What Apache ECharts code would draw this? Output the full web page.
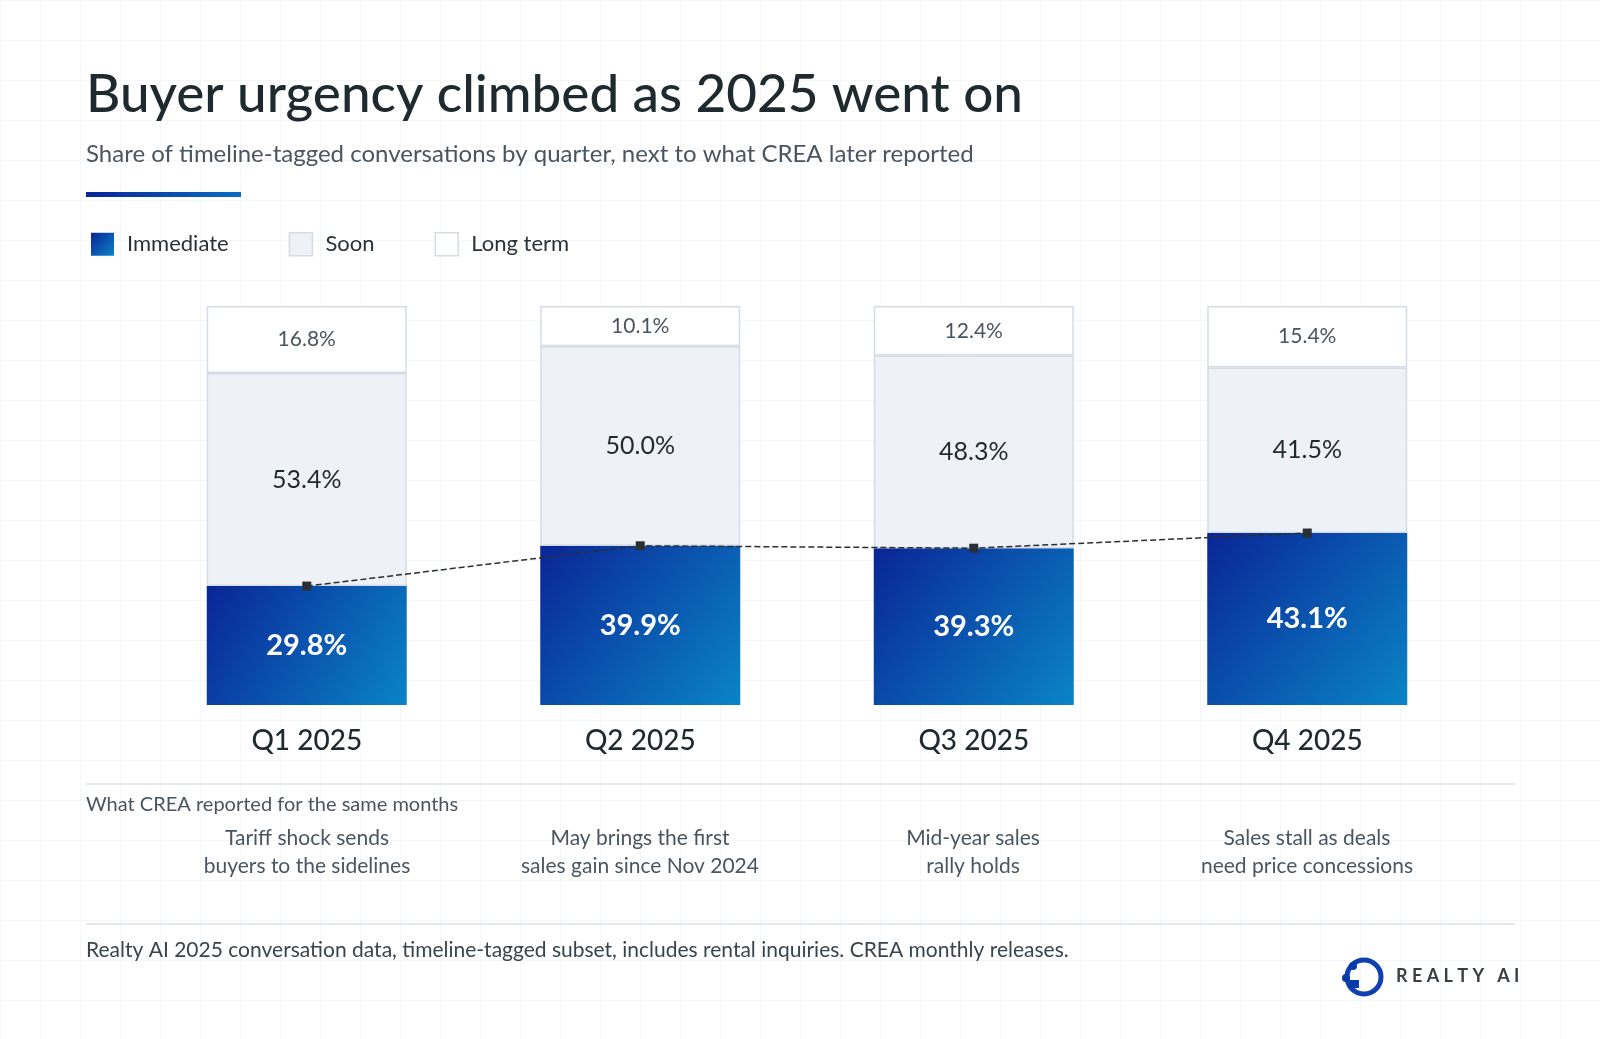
<!DOCTYPE html>
<html><head><meta charset="utf-8">
<script src="https://cdn.jsdelivr.net/npm/echarts@6/dist/echarts.min.js"></script>
<style>
html,body{margin:0;padding:0;}
#c{width:1600px;height:1039px;background-color:#fff;
background-image:linear-gradient(#f4f6f8 1px,transparent 1px),linear-gradient(90deg,#f4f6f8 1px,transparent 1px);
background-size:40px 40px;}
</style></head><body><div id="c"></div>
<script>
const categories=['Q1 2025','Q2 2025','Q3 2025','Q4 2025'];
const immediate=[29.8,39.9,39.3,43.1];
const soon=[53.4,50.0,48.3,41.5];
const longTerm=[16.8,10.1,12.4,15.4];
const notes=['Tariff shock sends\nbuyers to the sidelines','May brings the first\nsales gain since Nov 2024','Mid-year sales\nrally holds','Sales stall as deals\nneed price concessions'];
const F='Lato, "Noto Sans", sans-serif';
const chart=echarts.init(document.getElementById('c'));
const grad=new echarts.graphic.LinearGradient(0,0,1,1,[{offset:0,color:'#0a2596'},{offset:1,color:'#0a84c6'}]);
const noteX=[307,640,973,1307];
const g=[
 {type:'text',left:86,top:68,style:{text:'Buyer urgency climbed as 2025 went on',font:'500 53px '+F,fill:'#1f2a2e'}},
 {type:'text',left:86,top:142,style:{text:'Share of timeline-tagged conversations by quarter, next to what CREA later reported',font:'24px '+F,fill:'#4a5560'}},
 {type:'rect',shape:{x:86,y:192,width:155,height:5},style:{fill:new echarts.graphic.LinearGradient(0,0,1,0,[{offset:0,color:'#0a2596'},{offset:1,color:'#0a6cc0'}])}},
 {type:'line',shape:{x1:86,y1:784,x2:1515,y2:784},style:{stroke:'#dde2ea',lineWidth:1.5}},
 {type:'line',shape:{x1:86,y1:924,x2:1515,y2:924},style:{stroke:'#dde2ea',lineWidth:1.5}},
 {type:'text',left:86,top:795,style:{text:'What CREA reported for the same months',font:'20px '+F,fill:'#4a5560'}},
 {type:'text',left:86,top:940,style:{text:'Realty AI 2025 conversation data, timeline-tagged subset, includes rental inquiries. CREA monthly releases.',font:'21px '+F,fill:'#3a444c'}},
 {type:'text',left:1396,top:967,style:{text:'R E A L T Y   A I',font:'bold 18px '+F,fill:'#3a3f44'}},
 {type:'circle',shape:{cx:1364,cy:977,r:17},style:{fill:'none',stroke:'#1040b0',lineWidth:5}},
 {type:'circle',shape:{cx:1346,cy:978,r:4},style:{fill:'#0a3aa8'}},
 {type:'circle',shape:{cx:1353,cy:966,r:4},style:{fill:'#0a3aa8'}},
 {type:'rect',shape:{x:1349,y:980,width:10,height:8},style:{fill:'#0a3aa8'}}
];
notes.forEach((t,i)=>g.push({type:'text',x:noteX[i],y:824,style:{text:t,font:'21px '+F,fill:'#4a5560',align:'center',lineHeight:28}}));
const base={type:'bar',stack:'s',barWidth:200};
chart.setOption({
 animation:false,
 textStyle:{fontFamily:F},
 legend:{left:86,top:227,icon:'rect',itemWidth:23,itemHeight:23,itemGap:60,textStyle:{fontSize:22,color:'#2a3238',fontFamily:F,padding:[0,0,0,8]},
   data:[{name:'Immediate',itemStyle:{color:grad}},{name:'Soon',itemStyle:{color:'#eef1f6',borderColor:'#d6dbe5',borderWidth:1.5}},{name:'Long term',itemStyle:{color:'#fff',borderColor:'#d6dbe5',borderWidth:1.5}}]},
 grid:{left:140,width:1334,top:306,height:399},
 xAxis:{type:'category',data:categories,axisLine:{show:false},axisTick:{show:false},axisLabel:{fontSize:28,color:'#1f2a2e',margin:22,fontFamily:F,fontWeight:500}},
 yAxis:{type:'value',min:0,max:100,show:false,splitLine:{show:false}},
 series:[
  Object.assign({},base,{name:'Immediate',data:immediate,itemStyle:{color:grad},label:{show:true,position:'inside',formatter:p=>p.value.toFixed(1)+'%',color:'#fff',fontSize:29,fontWeight:'bold',fontFamily:F}}),
  Object.assign({},base,{name:'Soon',data:soon,itemStyle:{color:'#eef1f6',borderColor:'#d6dbe5',borderWidth:1.5},label:{show:true,position:'inside',formatter:p=>p.value.toFixed(1)+'%',color:'#1f2a2e',fontSize:25,fontFamily:F}}),
  Object.assign({},base,{name:'Long term',data:longTerm,itemStyle:{color:'#fff',borderColor:'#d6dbe5',borderWidth:1.5},label:{show:true,position:'inside',formatter:p=>p.value.toFixed(1)+'%',color:'#4a5560',fontSize:21,fontFamily:F}}),
  {type:'line',data:immediate,symbol:'rect',symbolSize:9,itemStyle:{color:'#2a2f33'},lineStyle:{type:'dashed',color:'#2a2f33',width:1.5},z:5}
 ],
 graphic:g
});
</script></body></html>
